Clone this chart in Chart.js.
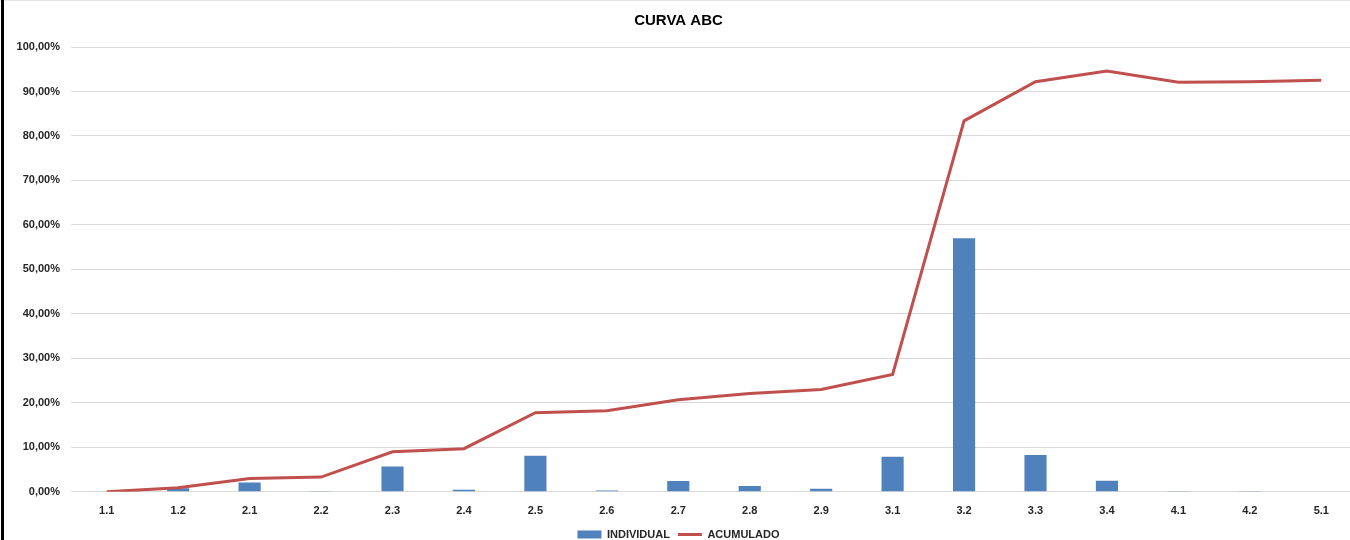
<!DOCTYPE html>
<html>
<head>
<meta charset="utf-8">
<script src="https://cdn.jsdelivr.net/npm/chart.js@4.4.1/dist/chart.umd.min.js"></script>
<style>
  html, body { margin: 0; padding: 0; background: #fff; overflow: hidden; }
  #wrap { position: absolute; left: 0; top: 0; width: 1357px; height: 540px; }
  #frameTop { position: absolute; left: 0; top: 0; width: 1350px; height: 1px; background: #e4e4e4; }
  #frameLeft { position: absolute; left: 1px; top: 0; width: 3px; height: 540px; background: #000; }
</style>
</head>
<body>
<div id="wrap"><canvas id="abcChart" width="1357" height="540"></canvas></div>
<div id="frameTop"></div>
<div id="frameLeft"></div>
<script>
// categorias (itens)
const labels = ['1.1', '1.2', '2.1', '2.2', '2.3', '2.4', '2.5', '2.6', '2.7', '2.8', '2.9', '3.1', '3.2', '3.3', '3.4', '4.1', '4.2', '5.1'];
// valores em %
const individual = [0, 0.8, 2.1, 0.05, 5.7, 0.45, 8.1, 0.3, 2.4, 1.3, 0.7, 7.9, 57.0, 8.3, 2.5, 0.05, 0.05, 0];
const acumulado = [0, 0.9, 3.0, 3.3, 9.0, 9.7, 17.8, 18.2, 20.7, 22.1, 23.0, 26.4, 83.4, 92.2, 94.6, 92.1, 92.2, 92.5];

const blue = '#4F81BD';
const red = '#C0504D';
const txt = '#262626';
const fontFam = '"Liberation Sans", Arial, sans-serif';

function pct(v) {
    return v.toFixed(2).replace('.', ',') + '%';
}

const ctx = document.getElementById('abcChart');
const abcChart = new Chart(ctx, {
    data: {
        labels: labels,
        datasets: [
            {
                type: 'bar',
                label: 'INDIVIDUAL',
                data: individual,
                backgroundColor: blue,
                borderWidth: 0,
                barPercentage: 0.31,
                categoryPercentage: 1,
                order: 2
            },
            {
                type: 'line',
                label: 'ACUMULADO',
                data: acumulado,
                borderColor: red,
                backgroundColor: red,
                borderWidth: 3,
                pointRadius: 0,
                tension: 0,
                order: 1
            }
        ]
    },
    options: {
        responsive: false,
        animation: false,
        layout: { padding: { left: 0, right: 0, top: 0, bottom: -10 } },
        plugins: {
            title: {
                display: true,
                text: 'CURVA ABC',
                color: '#000',
                font: { family: fontFam, size: 15, weight: 'bold' },
                padding: { top: 12, bottom: 17 }
            },
            legend: {
                position: 'bottom',
                labels: {
                    color: txt,
                    font: { family: fontFam, size: 11, weight: 'bold' },
                    usePointStyle: true,
                    pointStyleWidth: 24,
                    boxHeight: 8,
                    padding: 8,
                    generateLabels: function (chart) {
                        return chart.data.datasets.map(function (ds, i) {
                            return {
                                text: ds.label,
                                fillStyle: i === 0 ? blue : red,
                                strokeStyle: i === 0 ? blue : red,
                                lineWidth: i === 0 ? 0 : 3,
                                pointStyle: i === 0 ? 'rect' : 'line',
                                fontColor: txt,
                                hidden: false,
                                datasetIndex: i
                            };
                        });
                    }
                }
            },
            tooltip: { enabled: false }
        },
        scales: {
            x: {
                grid: { display: false, drawTicks: false },
                border: { display: false },
                ticks: {
                    color: txt,
                    padding: 13,
                    maxRotation: 0,
                    autoSkip: false,
                    font: { family: fontFam, size: 11, weight: 'bold' }
                },
                afterFit: function (scale) { scale.height -= 10; }
            },
            y: {
                min: 0,
                max: 100,
                grid: { color: '#d9d9d9', drawTicks: false },
                border: { display: false },
                ticks: {
                    stepSize: 10,
                    color: txt,
                    padding: 11,
                    font: { family: fontFam, size: 11, weight: 'bold' },
                    callback: function (v) { return pct(v); }
                },
                afterFit: function (scale) { scale.width = 71; }
            }
        }
    }
});
</script>
</body>
</html>
